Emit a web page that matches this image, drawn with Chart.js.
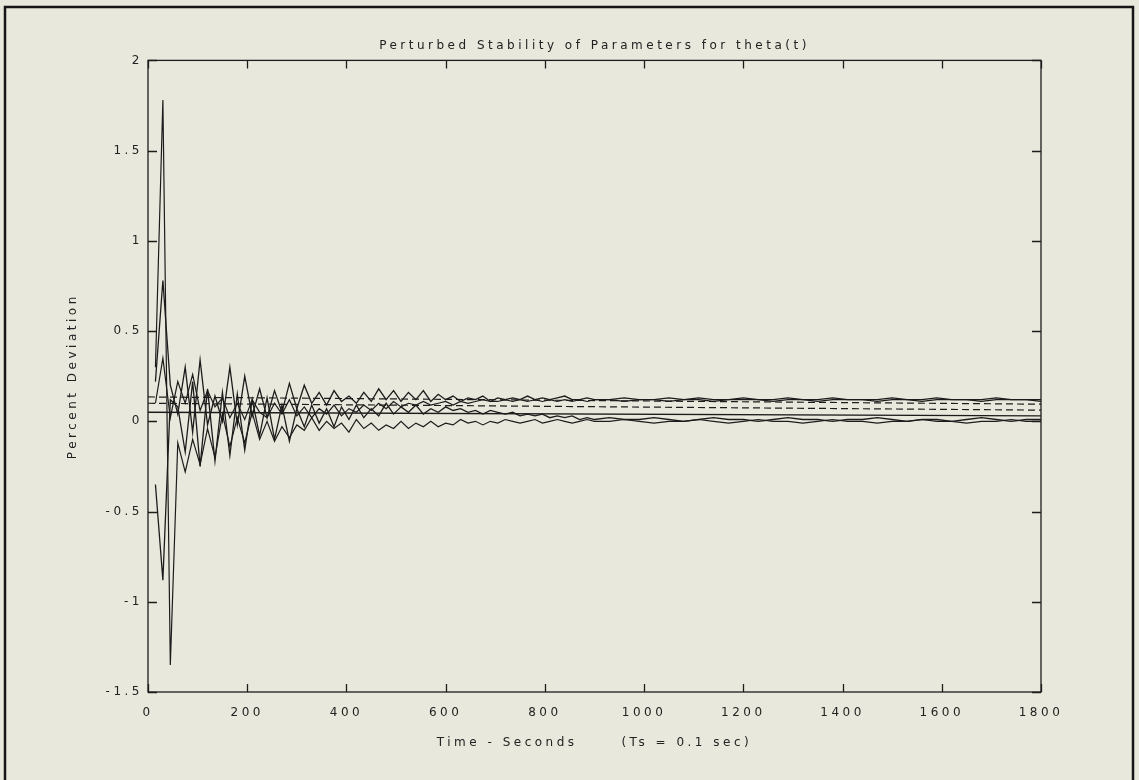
<!DOCTYPE html>
<html>
<head>
<meta charset="utf-8">
<script src="https://cdn.jsdelivr.net/npm/chart.js@4.4.1/dist/chart.umd.min.js"></script>
<style>
  html, body { margin: 0; padding: 0; background: #e9e8dc; }
  #chart { display: block; }
</style>
</head>
<body>
<canvas id="chart" width="1139" height="780"></canvas>
<script>
// sample times (seconds) shared by the four response curves
var times = [
    15, 30, 45, 60, 75, 90, 105, 120, 135, 150, 165, 180, 195, 210, 225, 240, 255, 270, 285, 300,
    315, 330, 345, 360, 375, 390, 405, 420, 435, 450, 465, 480, 495, 510, 525, 540, 555, 570, 585, 600,
    615, 630, 645, 660, 675, 690, 705, 720, 735, 750, 765, 780, 795, 810, 825, 840, 855, 870, 885, 900,
    930, 960, 990, 1020, 1050, 1080, 1110, 1140, 1170, 1200, 1230, 1260, 1290, 1320, 1350, 1380, 1410, 1440, 1470, 1500,
    1530, 1560, 1590, 1620, 1650, 1680, 1710, 1740, 1770, 1800
];

// big spike up then down, settles on the lower band
var devA = [
    0.30, 1.78, -1.35, -0.12, -0.28, -0.10, -0.24, -0.04, -0.20, 0.04, -0.14, 0.02, -0.12, 0.05, -0.10, 0.00, -0.11, -0.03, -0.09, -0.02,
    -0.05, 0.02, -0.05, 0.00, -0.04, -0.01, -0.06, 0.01, -0.04, -0.01, -0.05, -0.02, -0.04, 0.00, -0.04, -0.01, -0.03, 0.00, -0.03, -0.01,
    -0.02, 0.01, -0.01, 0.00, -0.02, 0.00, -0.01, 0.01, 0.00, -0.01, 0.00, 0.01, -0.01, 0.00, 0.01, 0.00, -0.01, 0.00, 0.01, 0.00,
    0.00, 0.01, 0.00, -0.01, 0.00, 0.00, 0.01, 0.00, -0.01, 0.00, 0.01, 0.00, 0.00, -0.01, 0.00, 0.01, 0.00, 0.00, -0.01, 0.00,
    0.00, 0.01, 0.00, 0.00, -0.01, 0.00, 0.00, 0.01, 0.00, 0.00
];

// peak near 0.78, settles on the upper band
var devB = [
    0.22, 0.78, 0.20, 0.04, 0.30, -0.06, 0.34, -0.02, 0.14, 0.00, 0.30, -0.02, 0.25, 0.03, 0.18, 0.02, 0.17, 0.05, 0.21, 0.07,
    0.20, 0.10, 0.16, 0.09, 0.17, 0.11, 0.14, 0.10, 0.16, 0.11, 0.18, 0.12, 0.17, 0.11, 0.16, 0.12, 0.17, 0.11, 0.15, 0.12,
    0.14, 0.11, 0.13, 0.12, 0.14, 0.11, 0.13, 0.12, 0.13, 0.12, 0.14, 0.12, 0.13, 0.12, 0.13, 0.14, 0.12, 0.12, 0.13, 0.12,
    0.12, 0.13, 0.12, 0.12, 0.13, 0.12, 0.13, 0.12, 0.12, 0.13, 0.12, 0.12, 0.13, 0.12, 0.12, 0.13, 0.12, 0.12, 0.12, 0.13,
    0.12, 0.12, 0.13, 0.12, 0.12, 0.12, 0.13, 0.12, 0.12, 0.12
];

// trough near -0.88, zigzag against devB, drifts down to the lower band
var devC = [
    -0.35, -0.88, 0.12, 0.08, -0.17, 0.22, -0.25, 0.18, -0.22, 0.16, -0.19, 0.15, -0.16, 0.12, -0.08, 0.13, -0.10, 0.09, -0.11, 0.07,
    -0.03, 0.09, -0.01, 0.07, -0.03, 0.08, 0.01, 0.09, 0.02, 0.07, 0.03, 0.10, 0.04, 0.08, 0.05, 0.09, 0.04, 0.07, 0.05, 0.08,
    0.06, 0.07, 0.05, 0.06, 0.04, 0.06, 0.05, 0.04, 0.05, 0.03, 0.04, 0.03, 0.04, 0.02, 0.03, 0.02, 0.03, 0.01, 0.02, 0.01,
    0.02, 0.01, 0.01, 0.02, 0.01, 0.00, 0.01, 0.02, 0.01, 0.01, 0.00, 0.01, 0.02, 0.01, 0.01, 0.00, 0.01, 0.01, 0.02, 0.01,
    0.00, 0.01, 0.01, 0.00, 0.01, 0.02, 0.01, 0.00, 0.01, 0.01
];

// milder wiggle, climbs to just under the upper band
var devD = [
    0.10, 0.35, 0.02, 0.22, 0.10, 0.26, 0.06, 0.17, 0.08, 0.13, 0.02, 0.10, 0.01, 0.12, 0.05, 0.02, 0.10, 0.04, 0.12, 0.03,
    0.08, 0.02, 0.07, 0.04, 0.09, 0.03, 0.07, 0.05, 0.09, 0.06, 0.10, 0.07, 0.11, 0.08, 0.10, 0.09, 0.11, 0.09, 0.10, 0.11,
    0.09, 0.11, 0.10, 0.11, 0.12, 0.11, 0.11, 0.12, 0.11, 0.12, 0.11, 0.12, 0.11, 0.12, 0.11, 0.12, 0.11, 0.12, 0.11, 0.12,
    0.12, 0.11, 0.12, 0.12, 0.11, 0.12, 0.12, 0.11, 0.12, 0.12, 0.12, 0.11, 0.12, 0.12, 0.11, 0.12, 0.12, 0.12, 0.11, 0.12,
    0.12, 0.11, 0.12, 0.12, 0.12, 0.11, 0.12, 0.12, 0.12, 0.11
];

// straight reference lines (start and end of run)
var lineTimes = [0, 1800];
var dashHigh = [0.135, 0.095];
var dashLow = [0.100, 0.062];
var solidBase = [0.050, 0.030];

var inkColor = '#1c1c1c';
var textColor = '#222222';
var paperColor = '#e9e8dc';
var fontFamily = '"DejaVu Sans", "Liberation Sans", sans-serif';
var fontSize = 12;

function pairs(xs, ys) {
    return ys.map(function(v, i) {
        return { x: xs[i], y: v };
    });
}

function curve(values, width) {
    return {
        data: pairs(times, values),
        borderColor: inkColor,
        borderWidth: width,
        pointRadius: 0,
        tension: 0,
        fill: false
    };
}

function straight(values, dash, width) {
    return {
        data: pairs(lineTimes, values),
        borderColor: inkColor,
        borderWidth: width,
        borderDash: dash,
        pointRadius: 0,
        fill: false
    };
}

function plainLabel(value) {
    return String(Math.round(value * 10) / 10);
}

/**
 * Paper, outer frame, plot box and inward tick marks
 */
var framePlugin = {
    id: 'frame',
    beforeLayout: function(chart) {
        chart.ctx.letterSpacing = '3.5px';
    },
    beforeDraw: function(chart) {
        var ctx = chart.ctx;
        ctx.letterSpacing = '3.5px';
        ctx.save();
        ctx.fillStyle = paperColor;
        ctx.fillRect(0, 0, chart.width, chart.height);
        ctx.strokeStyle = '#161616';
        ctx.lineWidth = 2.5;
        ctx.beginPath();
        ctx.moveTo(5, chart.height);
        ctx.lineTo(5, 7);
        ctx.lineTo(1133, 7);
        ctx.lineTo(1133, chart.height);
        ctx.stroke();
        ctx.restore();
    },
    afterDatasetsDraw: function(chart) {
        var ctx = chart.ctx;
        var a = chart.chartArea;
        var xs = chart.scales.x;
        var ys = chart.scales.y;
        ctx.save();
        ctx.strokeStyle = inkColor;
        ctx.lineWidth = 1.3;
        ctx.strokeRect(a.left, a.top, a.right - a.left, a.bottom - a.top);
        ctx.beginPath();
        xs.ticks.forEach(function(t) {
            var px = Math.round(xs.getPixelForValue(t.value)) + 0.5;
            ctx.moveTo(px, a.bottom);
            ctx.lineTo(px, a.bottom - 8);
            ctx.moveTo(px, a.top);
            ctx.lineTo(px, a.top + 8);
        });
        ys.ticks.forEach(function(t) {
            var py = Math.round(ys.getPixelForValue(t.value)) + 0.5;
            ctx.moveTo(a.left, py);
            ctx.lineTo(a.left + 9, py);
            ctx.moveTo(a.right, py);
            ctx.lineTo(a.right - 9, py);
        });
        ctx.stroke();
        ctx.restore();
    }
};

var ctx = document.getElementById('chart').getContext('2d');

new Chart(ctx, {
    type: 'line',
    data: {
        datasets: [
            straight(dashHigh, [7, 4], 1.2),
            straight(dashLow, [7, 4], 1.2),
            straight(solidBase, [], 1.4),
            curve(devA, 1.2),
            curve(devB, 1.3),
            curve(devC, 1.3),
            curve(devD, 1.2)
        ]
    },
    options: {
        responsive: false,
        animation: false,
        layout: {
            padding: { left: 0, right: 98, top: 0, bottom: 0 }
        },
        plugins: {
            legend: { display: false },
            tooltip: { enabled: false },
            title: {
                display: true,
                fullSize: false,
                text: 'Perturbed Stability of Parameters for theta(t)',
                color: textColor,
                font: { family: fontFamily, size: fontSize, weight: 'normal' },
                padding: { top: 39, bottom: 7 }
            }
        },
        scales: {
            x: {
                type: 'linear',
                min: 0,
                max: 1800,
                ticks: {
                    stepSize: 200,
                    padding: 14,
                    maxRotation: 0,
                    color: textColor,
                    font: { family: fontFamily, size: fontSize },
                    callback: plainLabel
                },
                grid: { display: false, drawTicks: false },
                border: { display: false },
                title: {
                    display: true,
                    text: 'Time - Seconds      (Ts = 0.1 sec)',
                    color: textColor,
                    font: { family: fontFamily, size: fontSize },
                    padding: { top: 0, bottom: 30 }
                },
                afterFit: function(scale) {
                    scale.height = 88;
                }
            },
            y: {
                type: 'linear',
                min: -1.5,
                max: 2,
                ticks: {
                    stepSize: 0.5,
                    padding: 5,
                    color: textColor,
                    font: { family: fontFamily, size: fontSize },
                    callback: plainLabel
                },
                grid: { display: false, drawTicks: false },
                border: { display: false },
                title: {
                    display: true,
                    text: 'Percent Deviation',
                    color: textColor,
                    font: { family: fontFamily, size: fontSize },
                    padding: { top: 66, bottom: 0 }
                },
                afterFit: function(scale) {
                    scale.width = 148;
                }
            }
        }
    },
    plugins: [framePlugin]
});
</script>
</body>
</html>
